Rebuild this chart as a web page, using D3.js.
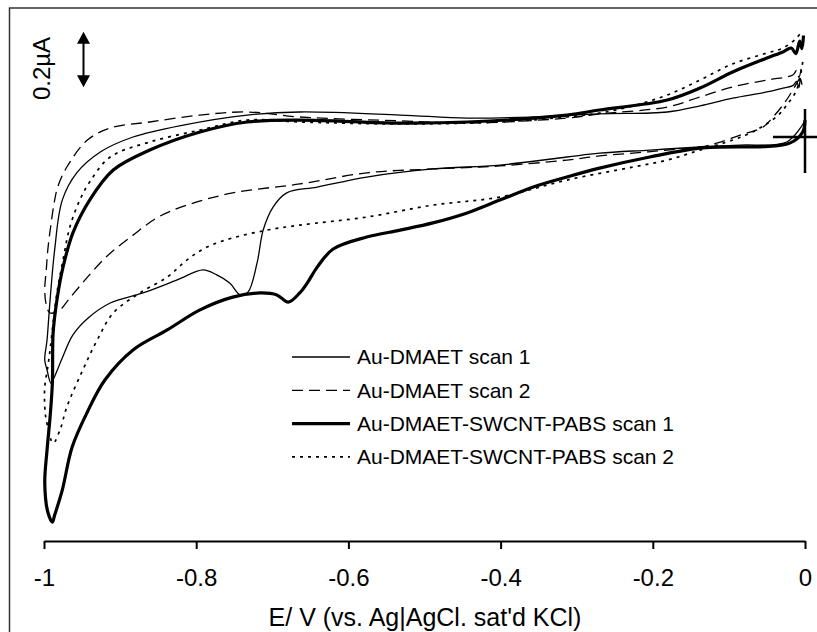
<!DOCTYPE html>
<html>
    <head>
        <meta charset="UTF-8"/>
        <style>
            body { margin: 0; background: #fff; }
            text { font-family: "Liberation Sans", Arial, sans-serif; fill: #000; }
        </style>
    </head>
    <body>
        <script src="https://d3js.org/d3.v7.min.js" type="text/javascript"></script>
        <script>
        let width = 817;
        let height = 632;

        // potential E (V) and current I (µA), in scan order
        let scan1E = [-0.001, -0.024, -0.085, -0.138, -0.204, -0.270, -0.313, -0.401, -0.489, -0.576, -0.641, -0.681, -0.699, -0.712, -0.720, -0.732, -0.742, -0.756, -0.773, -0.791, -0.825, -0.870, -0.913, -0.942, -0.962, -0.976, -0.987, -0.991, -0.996, -0.999, -0.996, -0.992, -0.986, -0.976, -0.957, -0.926, -0.883, -0.817, -0.733, -0.664, -0.532, -0.444, -0.357, -0.270, -0.181, -0.138, -0.095, -0.050, -0.029, -0.016, -0.011, -0.008, -0.006, -0.004];
        let scan1I = [0.054, -0.018, -0.029, -0.036, -0.047, -0.058, -0.072, -0.101, -0.115, -0.144, -0.180, -0.201, -0.252, -0.335, -0.453, -0.558, -0.568, -0.525, -0.496, -0.478, -0.514, -0.561, -0.597, -0.651, -0.712, -0.795, -0.867, -0.885, -0.838, -0.802, -0.730, -0.586, -0.406, -0.227, -0.129, -0.054, 0, 0.043, 0.079, 0.090, 0.079, 0.068, 0.072, 0.083, 0.090, 0.112, 0.140, 0.162, 0.176, 0.185, 0.200, 0.178, 0.210, 0.188];

        let scan2E = [-0.007, -0.020, -0.029, -0.042, -0.055, -0.085, -0.116, -0.138, -0.181, -0.226, -0.270, -0.313, -0.401, -0.489, -0.576, -0.664, -0.752, -0.812, -0.850, -0.883, -0.917, -0.946, -0.968, -0.979, -0.992, -0.997, -0.999, -0.997, -0.995, -0.991, -0.986, -0.982, -0.970, -0.943, -0.913, -0.861, -0.795, -0.733, -0.664, -0.532, -0.444, -0.313, -0.270, -0.181, -0.138, -0.095, -0.050, -0.016, -0.011, -0.008, -0.005];
        let scan2I = [0.212, 0.151, 0.115, 0.072, 0.036, 0.007, -0.022, -0.036, -0.047, -0.058, -0.068, -0.083, -0.104, -0.115, -0.129, -0.169, -0.201, -0.245, -0.288, -0.353, -0.428, -0.514, -0.586, -0.622, -0.633, -0.604, -0.550, -0.478, -0.406, -0.317, -0.227, -0.180, -0.108, -0.011, 0.032, 0.054, 0.079, 0.090, 0.072, 0.058, 0.050, 0.068, 0.083, 0.108, 0.144, 0.180, 0.205, 0.223, 0.240, 0.215, 0.245];

        let cntScan1E = [0.000, -0.003, -0.020, -0.138, -0.204, -0.270, -0.313, -0.357, -0.401, -0.444, -0.489, -0.532, -0.576, -0.620, -0.641, -0.654, -0.664, -0.679, -0.694, -0.716, -0.752, -0.795, -0.838, -0.883, -0.920, -0.943, -0.963, -0.976, -0.986, -0.989, -0.995, -0.999, -0.996, -0.992, -0.989, -0.988, -0.983, -0.975, -0.962, -0.940, -0.909, -0.861, -0.795, -0.733, -0.664, -0.532, -0.444, -0.313, -0.270, -0.181, -0.138, -0.095, -0.050, -0.029, -0.018, -0.012, -0.007, -0.004, -0.002];
        let cntScan1I = [0.061, 0.018, -0.022, -0.040, -0.072, -0.112, -0.144, -0.180, -0.227, -0.273, -0.309, -0.335, -0.360, -0.403, -0.468, -0.525, -0.561, -0.594, -0.568, -0.561, -0.576, -0.622, -0.694, -0.766, -0.874, -0.989, -1.115, -1.270, -1.360, -1.385, -1.349, -1.245, -1.126, -1.007, -0.885, -0.705, -0.586, -0.468, -0.345, -0.227, -0.119, -0.047, 0.018, 0.054, 0.061, 0.050, 0.054, 0.079, 0.097, 0.133, 0.176, 0.234, 0.284, 0.306, 0.320, 0.300, 0.345, 0.318, 0.365];

        let cntScan2E = [-0.003, -0.011, -0.024, -0.035, -0.053, -0.072, -0.095, -0.138, -0.181, -0.226, -0.313, -0.401, -0.489, -0.576, -0.664, -0.707, -0.752, -0.786, -0.812, -0.838, -0.874, -0.909, -0.930, -0.949, -0.970, -0.979, -0.988, -0.997, -0.999, -0.999, -0.995, -0.992, -0.988, -0.983, -0.975, -0.966, -0.953, -0.940, -0.913, -0.861, -0.795, -0.733, -0.664, -0.532, -0.401, -0.313, -0.270, -0.226, -0.181, -0.138, -0.095, -0.050, -0.029, -0.011, -0.003];
        let cntScan2I = [0.270, 0.169, 0.115, 0.079, 0.043, 0.014, -0.011, -0.047, -0.083, -0.108, -0.155, -0.216, -0.245, -0.288, -0.317, -0.335, -0.363, -0.396, -0.442, -0.504, -0.561, -0.633, -0.730, -0.838, -0.971, -1.054, -1.101, -1.018, -0.971, -0.899, -0.827, -0.766, -0.669, -0.561, -0.442, -0.324, -0.227, -0.162, -0.072, -0.018, 0.025, 0.061, 0.054, 0.047, 0.054, 0.072, 0.086, 0.112, 0.151, 0.205, 0.263, 0.302, 0.320, 0.356, 0.385];

        let seriesNames = ["Au-DMAET scan 1", "Au-DMAET scan 2", "Au-DMAET-SWCNT-PABS scan 1", "Au-DMAET-SWCNT-PABS scan 2"];
        let xTicks = [-1, -0.8, -0.6, -0.4, -0.2, 0];
        let xTickLabels = ["-1", "-0.8", "-0.6", "-0.4", "-0.2", "0"];
        let scaleBarValue = 0.2;

        let styles = [
            {width: 1.3, dash: null},
            {width: 1.3, dash: "11,6"},
            {width: 3.2, dash: null},
            {width: 1.7, dash: "3,5"}
        ];

        let series = [
            {name: seriesNames[0], E: scan1E, I: scan1I},
            {name: seriesNames[1], E: scan2E, I: scan2I},
            {name: seriesNames[2], E: cntScan1E, I: cntScan1I},
            {name: seriesNames[3], E: cntScan2E, I: cntScan2I}
        ];

        let x = d3.scaleLinear().domain([-1, 0]).range([44, 805]);
        let y = d3.scaleLinear().domain([0, 0.2]).range([137, 81.4]);

        let svg = d3.select("body")
            .append("svg")
            .attr("width", width)
            .attr("height", height);

        // frame (top and left edges only, the rest is cut off)
        svg.append("path")
            .attr("d", "M9.5,632V8H817")
            .attr("fill", "none")
            .attr("stroke", "#333")
            .attr("stroke-width", 1.5);

        // x axis
        let xAxis = d3.axisBottom(x)
            .tickValues(xTicks)
            .tickFormat(function(d, i) { return xTickLabels[i]; })
            .tickSize(8)
            .tickSizeOuter(0)
            .tickPadding(20);
        let gx = svg.append("g")
            .attr("transform", "translate(0,541)")
            .call(xAxis);
        gx.select(".domain").attr("stroke", "#000").attr("stroke-width", 2);
        gx.selectAll(".tick line").attr("stroke", "#000").attr("stroke-width", 2);
        gx.selectAll(".tick text")
            .attr("font-size", "24px")
            .attr("font-family", "Liberation Sans, Arial, sans-serif")
            .attr("fill", "#000");

        svg.append("text")
            .attr("x", 425)
            .attr("y", 626)
            .attr("text-anchor", "middle")
            .attr("font-size", "25px")
            .text("E/ V (vs. Ag|AgCl. sat'd KCl)");

        // curves
        let line = d3.line()
            .x(function(d) { return x(d[0]); })
            .y(function(d) { return y(d[1]); })
            .curve(d3.curveCatmullRom.alpha(0.5));

        svg.selectAll("path.cv")
            .data(series)
            .enter()
            .append("path")
            .attr("class", "cv")
            .attr("d", function(s) { return line(d3.zip(s.E, s.I)); })
            .attr("fill", "none")
            .attr("stroke", "#000")
            .attr("stroke-width", function(s, i) { return styles[i].width; })
            .attr("stroke-dasharray", function(s, i) { return styles[i].dash; })
            .attr("stroke-linejoin", "round");

        // zero-current cross at E = 0
        svg.append("line")
            .attr("x1", x(0) - 32).attr("x2", width)
            .attr("y1", y(0)).attr("y2", y(0))
            .attr("stroke", "#000").attr("stroke-width", 2.5);
        svg.append("line")
            .attr("x1", x(0)).attr("x2", x(0))
            .attr("y1", y(0) - 28).attr("y2", y(0) + 36)
            .attr("stroke", "#000").attr("stroke-width", 2.5);

        // 0.2 µA scale bar with a double arrow
        let barLen = y(0) - y(scaleBarValue);
        let barX = 83.5, barTop = 31.7;
        svg.append("line")
            .attr("x1", barX).attr("x2", barX)
            .attr("y1", barTop + 6).attr("y2", barTop + barLen - 6)
            .attr("stroke", "#000").attr("stroke-width", 2);
        svg.append("path")
            .attr("d", "M" + barX + "," + barTop + "l6.5,12h-13Z" +
                "M" + barX + "," + (barTop + barLen) + "l6.5,-12h-13Z")
            .attr("fill", "#000");
        svg.append("text")
            .attr("transform", "translate(50,68.5)rotate(-90)")
            .attr("text-anchor", "middle")
            .attr("font-size", "24px")
            .text(scaleBarValue + "µA");

        // legend
        let legend = svg.selectAll("g.legend")
            .data(series)
            .enter()
            .append("g")
            .attr("class", "legend")
            .attr("transform", function(d, i) { return "translate(292," + (357 + i * 33.3) + ")"; });
        legend.append("line")
            .attr("x1", 0).attr("x2", 58)
            .attr("stroke", "#000")
            .attr("stroke-width", function(d, i) { return styles[i].width; })
            .attr("stroke-dasharray", function(d, i) { return styles[i].dash; });
        legend.append("text")
            .attr("x", 65)
            .attr("dy", "0.35em")
            .attr("font-size", "21px")
            .text(function(d) { return d.name; });
        </script>
    </body>
</html>
